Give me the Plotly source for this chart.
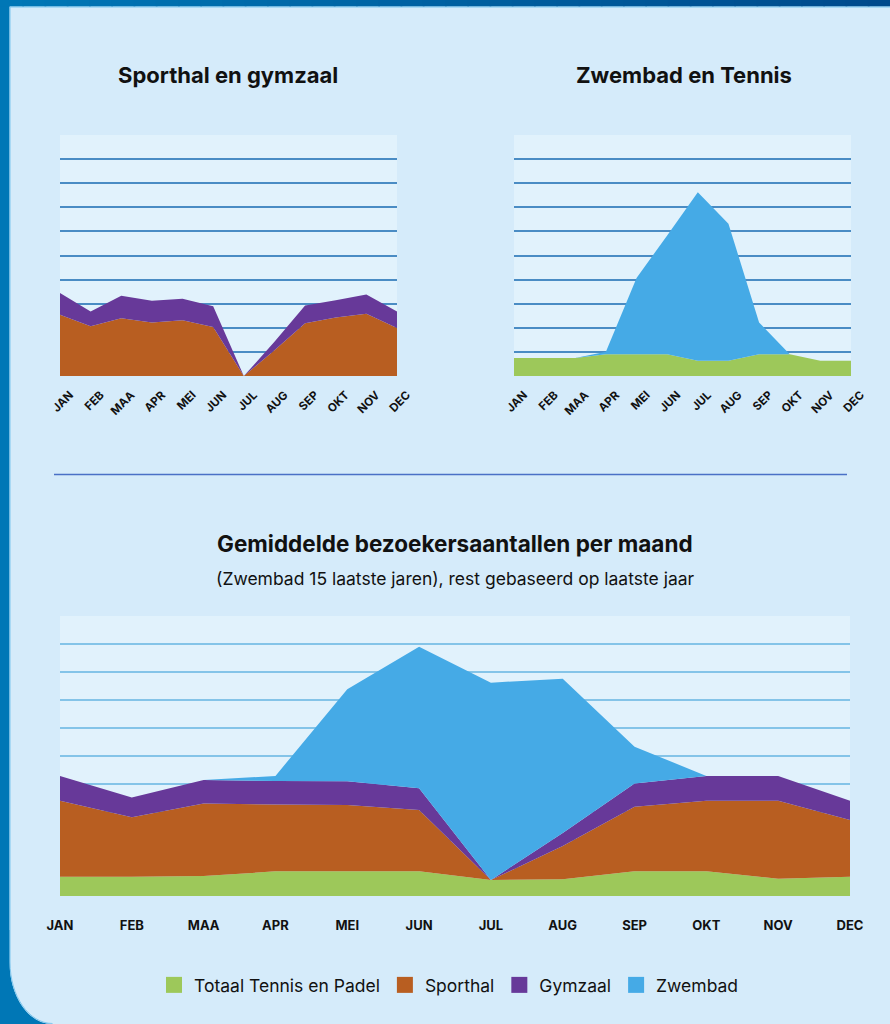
import plotly.graph_objects as go

W, H = 890, 1024

# ---------------- data ----------------
months = ["JAN", "FEB", "MAA", "APR", "MEI", "JUN", "JUL", "AUG", "SEP", "OKT", "NOV", "DEC"]

# Top-left: Sporthal en gymzaal (grid units)
sporthal_tl = [2.54, 2.06, 2.40, 2.22, 2.31, 2.03, 0.0, 1.07, 2.19, 2.43, 2.58, 1.99]
gymzaal_tl = [0.90, 0.62, 0.93, 0.90, 0.90, 0.86, 0.0, 0.35, 0.74, 0.71, 0.80, 0.69]

# Top-right: Zwembad en Tennis
tennis_tr = [0.75, 0.75, 0.75, 0.90, 0.90, 0.90, 0.63, 0.63, 0.90, 0.90, 0.63, 0.63]
zwembad_tr = [0.0, 0.0, 0.0, 0.11, 3.17, 4.93, 6.99, 5.69, 1.32, 0.0, 0.0, 0.0]

# Bottom: combined
tennis_b = [0.69, 0.69, 0.71, 0.88, 0.88, 0.88, 0.57, 0.60, 0.88, 0.88, 0.62, 0.69]
sporthal_b = [2.71, 2.12, 2.59, 2.39, 2.37, 2.19, 0.0, 1.19, 2.31, 2.52, 2.78, 2.02]
gymzaal_b = [0.89, 0.71, 0.84, 0.84, 0.85, 0.78, 0.0, 0.46, 0.83, 0.89, 0.89, 0.69]
zwembad_b = [0.0, 0.0, 0.0, 0.18, 3.28, 5.05, 7.05, 5.51, 1.31, 0.0, 0.0, 0.0]

series_names = ["Totaal Tennis en Padel", "Sporthal", "Gymzaal", "Zwembad"]

# ---------------- style ----------------
C_TENNIS = "#9dc85a"
C_SPORT = "#b85e21"
C_GYM = "#673999"
C_ZWEM = "#45aae6"
colors = {"Totaal Tennis en Padel": C_TENNIS, "Sporthal": C_SPORT, "Gymzaal": C_GYM, "Zwembad": C_ZWEM}

PANEL = "#d5ebfa"
PLOTBG = "#e1f2fc"
FRAME = "#0077b6"
FONT = "Inter, Lato, sans-serif"

x = list(range(len(months)))

fig = go.Figure()


def add_area(xa, ya, vals, color, group):
    fig.add_trace(go.Scatter(
        x=x, y=vals, xaxis=xa, yaxis=ya, stackgroup=group, mode="none",
        fillcolor=color, line=dict(width=0), showlegend=False, hoverinfo="skip"))


add_area("x", "y", sporthal_tl, C_SPORT, "tl")
add_area("x", "y", gymzaal_tl, C_GYM, "tl")

add_area("x2", "y2", tennis_tr, C_TENNIS, "tr")
add_area("x2", "y2", zwembad_tr, C_ZWEM, "tr")

add_area("x3", "y3", tennis_b, C_TENNIS, "b")
add_area("x3", "y3", sporthal_b, C_SPORT, "b")
add_area("x3", "y3", gymzaal_b, C_GYM, "b")
add_area("x3", "y3", zwembad_b, C_ZWEM, "b")

# legend entries
for name in series_names:
    fig.add_trace(go.Scatter(
        x=[None], y=[None], xaxis="x3", yaxis="y3", mode="markers",
        marker=dict(symbol="square", size=16, color=colors[name]),
        name=name, showlegend=True, hoverinfo="skip"))


def px(xv):
    return xv / W


def py(yv):
    return 1 - yv / H


def P(xv, yv):
    return f"{px(xv):.5f},{py(yv):.5f}"


top_ydom = [py(376), py(135)]
bot_ydom = [py(896), py(616)]

xa_common = dict(range=[0, 11], tickmode="array", tickvals=x, ticktext=months,
                 showgrid=False, zeroline=False, showline=False, ticks="",
                 fixedrange=True, automargin=False)
ya_common = dict(range=[0, 10], dtick=1, tick0=0, showgrid=True, gridwidth=1.5,
                 showticklabels=False, zeroline=False, showline=False, ticks="",
                 fixedrange=True, automargin=False)

small_tick_font = dict(family=FONT, size=11.5, color="#111111", weight="bold")

fig.update_layout(
    width=W, height=H,
    autosize=False,
    margin=dict(l=0, r=0, t=0, b=0, pad=0),
    paper_bgcolor=PANEL,
    plot_bgcolor=PLOTBG,
    xaxis=dict(**xa_common, domain=[px(60), px(397)], anchor="y", tickangle=-45,
               tickfont=small_tick_font, ticklabelshift=10, ticklabelstandoff=9),
    yaxis=dict(**ya_common, domain=top_ydom, anchor="x", gridcolor="#4a8cc4"),
    xaxis2=dict(**xa_common, domain=[px(514), px(851)], anchor="y2", tickangle=-45,
                tickfont=small_tick_font, ticklabelshift=10, ticklabelstandoff=9),
    yaxis2=dict(**ya_common, domain=top_ydom, anchor="x2", gridcolor="#4a8cc4"),
    xaxis3=dict(**xa_common, domain=[px(60), px(850)], anchor="y3", tickangle=0,
                tickfont=dict(family=FONT, size=13, color="#111111", weight="bold"),
                ticklabelstandoff=20),
    yaxis3=dict(**ya_common, domain=bot_ydom, anchor="x3", gridcolor="#84c4e8"),
    showlegend=True,
    legend=dict(orientation="h", x=px(449), xanchor="center", y=py(985), yanchor="middle",
                font=dict(family=FONT, size=17.5, color="#111111"),
                bgcolor="rgba(0,0,0,0)", itemclick=False, itemdoubleclick=False,
                traceorder="normal"),
)

# titles
title_font = dict(family=FONT, size=22, color="#111111", weight="bold")
fig.add_annotation(text="Sporthal en gymzaal", x=px(228), y=py(75), xref="paper", yref="paper",
                   showarrow=False, font=title_font, xanchor="center", yanchor="middle")
fig.add_annotation(text="Zwembad en Tennis", x=px(684), y=py(75), xref="paper", yref="paper",
                   showarrow=False, font=title_font, xanchor="center", yanchor="middle")
fig.add_annotation(text="Gemiddelde bezoekersaantallen per maand", x=px(455), y=py(543),
                   xref="paper", yref="paper", showarrow=False,
                   font=dict(family=FONT, size=22.5, color="#111111", weight="bold"),
                   xanchor="center", yanchor="middle")
fig.add_annotation(text="(Zwembad 15 laatste jaren), rest gebaseerd op laatste jaar",
                   x=px(456), y=py(578), xref="paper", yref="paper", showarrow=False,
                   font=dict(family=FONT, size=17.5, color="#111111"),
                   xanchor="center", yanchor="middle")

# ---------------- frame decorations ----------------
shapes = []
# divider
shapes.append(dict(type="line", xref="paper", yref="paper", x0=px(54), x1=px(847),
                   y0=py(474.5), y1=py(474.5), line=dict(color="#4a70c6", width=1.5)))
# left strip
shapes.append(dict(type="rect", xref="paper", yref="paper", x0=0, x1=px(9.5), y0=0, y1=1,
                   fillcolor=FRAME, line=dict(width=0), layer="above"))
# top strip with gradient
n = 40
c0 = (0, 119, 182)
c1 = (0, 74, 140)
for i in range(n):
    t = i / (n - 1)
    col = "rgb({},{},{})".format(*[round(a + (b - a) * t) for a, b in zip(c0, c1)])
    shapes.append(dict(type="rect", xref="paper", yref="paper",
                       x0=i / n, x1=min(1.0, (i + 1) / n + 0.002), y0=py(6.5), y1=1,
                       fillcolor=col, line=dict(width=0), layer="above"))
# rounded bottom-left corner
k = 0.5523
rx, ry = 42.5, 62
cx0, cy0 = 9.5, 1024 - ry
corner = (f"M {P(0, 930)} L {P(cx0, 930)} L {P(cx0, cy0)} "
          f"C {P(cx0, cy0 + ry * k)} {P(cx0 + rx - rx * k, 1024)} {P(cx0 + rx, 1024)} "
          f"L {P(0, 1024)} Z")
shapes.append(dict(type="path", xref="paper", yref="paper", path=corner,
                   fillcolor=FRAME, line=dict(width=0), layer="above"))
# thin light border of panel
border = (f"M {P(W, 7)} L {P(10, 7)} L {P(10, cy0)} "
          f"C {P(10, cy0 + ry * k)} {P(cx0 + rx - rx * k + 0.5, 1023.5)} {P(cx0 + rx + 0.5, 1023.5)}")
shapes.append(dict(type="path", xref="paper", yref="paper", path=border,
                   line=dict(color="#7fc7ee", width=1), layer="above"))

fig.update_layout(shapes=shapes)

fig.write_html(
    "out.html",
    config={"displayModeBar": False, "responsive": False},
    post_script=("document.body.style.margin='0';document.body.style.padding='0';"
                 "document.body.style.overflow='hidden';"
                 "document.documentElement.style.overflow='hidden';"),
)
